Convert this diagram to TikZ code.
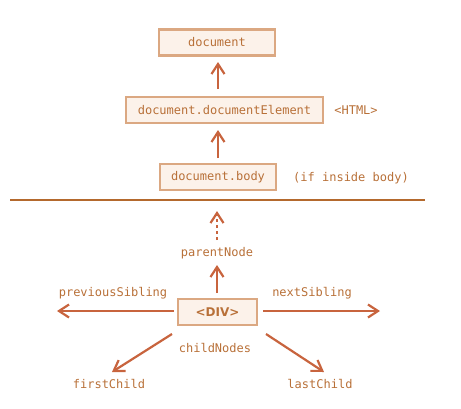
\documentclass[tikz,border=0pt]{standalone}
\usepackage{fontspec}
\setmonofont{DejaVu Sans Mono}
\setsansfont{DejaVu Sans}
\usepackage{tikz}
\usetikzlibrary{
    positioning,
    arrows.meta
}
\definecolor{boxLine}{RGB}{219, 168, 130}
\definecolor{boxFill}{RGB}{252, 242, 234}
\definecolor{textBrown}{RGB}{184, 112, 56}
\definecolor{arrowRed}{RGB}{200, 100, 62}
\definecolor{ruleBrown}{RGB}{180, 105, 45}

\begin{document}
\begin{tikzpicture}[x=1pt, y=-1pt,
    box/.style={draw=boxLine, fill=boxFill, line width=2.4pt, minimum height=26pt,
        inner sep=0pt, font=\ttfamily\fontsize{12}{14}\selectfont, text=textBrown},
    lbl/.style={font=\ttfamily\fontsize{12}{14}\selectfont, text=textBrown, inner sep=0pt},
    arr/.style={-{Straight Barb[length=10pt, width=13pt, line width=2.2pt]}, arrowRed, line width=2.2pt}
]
    \useasboundingbox (0,0) rectangle (461,408);

    % top part: document chain
    \node[box, minimum width=116pt] (doc) at (217,42.5) {document};
    \node[box, minimum width=197pt] (docEl) at (224.5,110) {document.documentElement};
    \node[box, minimum width=116pt] (body) at (218,177) {document.body};
    \node[lbl] (html) at (356,110) {<HTML>};
    \node[lbl] (inside) at (351,178) {(if inside body)};

    \coordinate (docEl top) at (218,89);
    \coordinate (doc bottom) at (218,62);
    \coordinate (body top) at (218,158);
    \coordinate (docEl bottom) at (218,130);
    \draw[arr] (docEl top) -- (doc bottom);
    \draw[arr] (body top) -- (docEl bottom);

    % separator
    \coordinate (sepL) at (10,200);
    \coordinate (sepR) at (425,200);
    \draw[ruleBrown, line width=1.8pt] (sepL) -- (sepR);

    % the element and its neighbours
    \node[box, minimum width=79pt, font=\sffamily\bfseries\fontsize{12}{14}\selectfont] (div) at (217.5,312) {<DIV>};
    \node[lbl] (parent) at (217,253) {parentNode};
    \node[lbl] (prev) at (113,293) {previousSibling};
    \node[lbl] (next) at (312,293) {nextSibling};
    \node[lbl] (kids) at (215,348) {childNodes};
    \node[lbl] (first) at (109,384) {firstChild};
    \node[lbl] (last) at (320,384) {lastChild};

    \coordinate (up start) at (217,240);
    \coordinate (up end) at (217,211);
    \draw[arr, dash pattern=on 3pt off 3pt] (up start) -- (up end);
    \coordinate (div top) at (217,293);
    \coordinate (parent bottom) at (217,265);
    \draw[arr] (div top) -- (parent bottom);
    \coordinate (prevStart) at (174,311);
    \coordinate (prevEnd) at (57,311);
    \coordinate (nextStart) at (263,311);
    \coordinate (nextEnd) at (380,311);
    \draw[arr] (prevStart) -- (prevEnd);
    \draw[arr] (nextStart) -- (nextEnd);
    \coordinate (firstStart) at (172,334);
    \coordinate (firstEnd) at (112,372);
    \coordinate (lastStart) at (266,334);
    \coordinate (lastEnd) at (324,372);
    \draw[arr] (firstStart) -- (firstEnd);
    \draw[arr] (lastStart) -- (lastEnd);
\end{tikzpicture}
\end{document}
